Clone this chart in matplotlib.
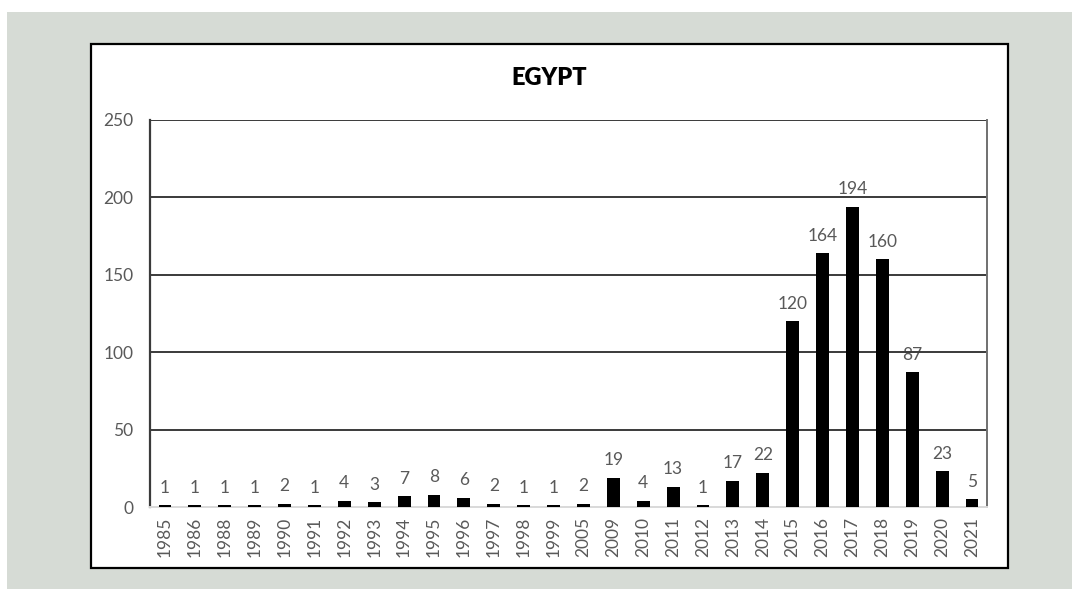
import matplotlib
matplotlib.use("Agg")
import matplotlib.pyplot as plt
from matplotlib.patches import Rectangle

years = ["1985", "1986", "1988", "1989", "1990", "1991", "1992", "1993", "1994",
         "1995", "1996", "1997", "1998", "1999", "2005", "2009", "2010", "2011",
         "2012", "2013", "2014", "2015", "2016", "2017", "2018", "2019", "2020",
         "2021"]
counts = [1, 1, 1, 1, 2, 1, 4, 3, 7, 8, 6, 2, 1, 1, 2, 19, 4, 13, 1, 17, 22,
          120, 164, 194, 160, 87, 23, 5]
y_ticks = [0, 50, 100, 150, 200, 250]
title = "EGYPT"

W, H = 1072, 589
plt.rcParams["font.family"] = ["Lato", "DejaVu Sans"]
fig = plt.figure(figsize=(W / 100, H / 100), dpi=100)
fig.patch.set_facecolor("white")

def px_rect(x0, y0, x1, y1, **kw):
    # rectangle given in pixel coordinates measured from the top-left corner
    return Rectangle((x0 / W, 1 - y1 / H), (x1 - x0) / W, (y1 - y0) / H,
                     transform=fig.transFigure, **kw)

# grey page behind the chart and the white framed chart area
fig.patches.append(px_rect(7, 12, W + 5, H + 5, facecolor="#d6dbd5",
                           edgecolor="none", zorder=0))
fig.patches.append(px_rect(91, 44, 1008, 568, facecolor="white",
                           edgecolor="black", linewidth=1.6, zorder=0.5))

ax_l, ax_r, ax_t, ax_b = 150, 987, 120, 507
ax = fig.add_axes([ax_l / W, 1 - ax_b / H, (ax_r - ax_l) / W, (ax_b - ax_t) / H])
ax.set_zorder(2)
ax.set_facecolor("none")

x = range(len(years))
ax.bar(x, counts, width=0.43, color="black", zorder=3)
ax.set_xlim(-0.5, len(years) - 0.5)
ax.set_ylim(0, 250)

for yv in y_ticks[1:]:
    ax.axhline(yv, color="#3a3a3a", linewidth=1.4, zorder=2)

for xi, v in zip(x, counts):
    ax.annotate(str(v), (xi, v), xytext=(0, 9), textcoords="offset points",
                ha="center", va="baseline", fontsize=12.5, color="#595959",
                zorder=1)

ax.set_yticks(y_ticks)
ax.set_yticklabels([str(t) for t in y_ticks])
ax.set_xticks(list(x))
ax.set_xticklabels(years, rotation=90)
ax.tick_params(axis="y", length=0, pad=12, labelsize=12.5, labelcolor="#595959")
ax.tick_params(axis="x", length=0, pad=7, labelsize=12.5, labelcolor="#595959")

ax.spines["left"].set_color("#3a3a3a")
ax.spines["left"].set_linewidth(1.6)
ax.spines["top"].set_visible(False)
ax.spines["right"].set_color("#707070")
ax.spines["right"].set_linewidth(1.4)
ax.spines["bottom"].set_color("#d9d9d9")
ax.spines["bottom"].set_linewidth(1.4)

fig.text(549.5 / W, 1 - 78 / H, title, ha="center", va="center",
         fontsize=17, fontweight="heavy", color="black")

fig.savefig("out.png", dpi=100, facecolor=fig.get_facecolor())
